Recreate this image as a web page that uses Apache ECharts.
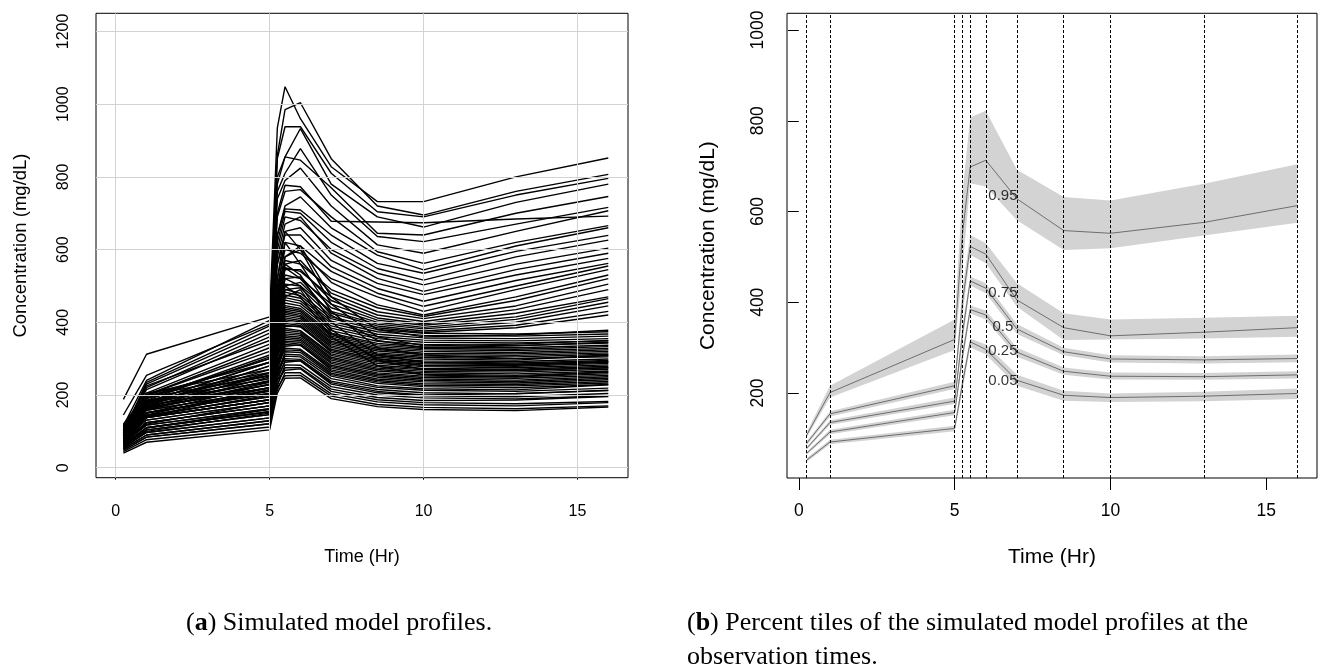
<!DOCTYPE html>
<html>
<head>
<meta charset="utf-8">
<script src="https://cdn.jsdelivr.net/npm/echarts@6/dist/echarts.min.js"></script>
<style>
html, body { margin: 0; padding: 0; background: #fff; }
#main { width: 1320px; height: 671px; }
</style>
</head>
<body>
<div id="main"></div>
<script>
// observation times (Hr)
var times = [0.25, 1, 5, 5.25, 5.5, 6, 7, 8.5, 10, 13, 16];

// simulated profiles, one row per subject, values at the observation times
var profiles = [
    [188, 312, 415, 935, 1048, 960, 828, 732, 732, 800, 852],
    [145, 254, 395, 860, 985, 1004, 850, 720, 695, 760, 807],
    [105, 220, 370, 850, 938, 938, 810, 704, 690, 750, 796],
    [115, 240, 405, 780, 855, 933, 780, 690, 662, 730, 780],
    [100, 215, 360, 800, 855, 846, 770, 645, 640, 700, 746],
    [95, 205, 340, 760, 810, 878, 750, 636, 622, 670, 716],
    [100, 230, 380, 740, 790, 824, 720, 613, 590, 650, 707],
    [90, 200, 330, 700, 777, 773, 678, 676, 674, 684, 692],
    [105, 225, 350, 690, 760, 765, 690, 594, 562, 620, 666],
    [95, 200, 320, 640, 720, 745, 660, 585, 544, 610, 660],
    [85, 190, 310, 640, 712, 709, 640, 562, 535, 595, 639],
    [90, 195, 300, 620, 705, 700, 620, 548, 516, 580, 626],
    [80, 180, 290, 600, 690, 680, 600, 535, 503, 560, 604],
    [88, 185, 305, 580, 670, 690, 590, 521, 485, 545, 590],
    [95, 235, 390, 560, 650, 660, 570, 507, 476, 530, 576],
    [85, 175, 280, 560, 640, 640, 553, 493, 458, 515, 562],
    [80, 170, 280, 520, 620, 610, 540, 480, 444, 500, 555],
    [75, 165, 260, 500, 600, 590, 520, 470, 430, 490, 545],
    [90, 180, 290, 480, 580, 600, 510, 448, 420, 470, 530],
    [70, 160, 250, 470, 570, 560, 490, 440, 416, 460, 520],
    [85, 175, 270, 460, 560, 570, 480, 429, 410, 445, 505],
    [78, 168, 240, 450, 550, 540, 470, 420, 402, 435, 490],
    [72, 150, 230, 440, 545, 545, 460, 412, 396, 425, 470],
    [82, 172, 255, 430, 530, 520, 450, 406, 392, 415, 465],
    [68, 145, 220, 420, 520, 525, 440, 400, 386, 408, 455],
    [76, 160, 235, 410, 505, 500, 430, 395, 382, 400, 445],
    [88, 190, 300, 420, 500, 510, 425, 390, 376, 392, 430],
    [65, 140, 215, 400, 490, 495, 415, 385, 372, 385, 420],
    [40, 70, 104, 205, 246, 247, 190, 168, 160, 157, 167],
    [64, 110, 154, 220, 253, 254, 197, 174, 166, 162, 170],
    [48, 84, 121, 214, 261, 261, 203, 181, 173, 170, 179],
    [80, 138, 187, 241, 268, 272, 210, 187, 179, 176, 182],
    [56, 97, 137, 229, 275, 275, 216, 193, 185, 186, 196],
    [44, 77, 112, 226, 283, 282, 223, 200, 192, 189, 198],
    [72, 124, 170, 250, 290, 294, 230, 206, 198, 195, 204],
    [52, 90, 129, 240, 295, 294, 234, 210, 200, 204, 212],
    [88, 151, 204, 268, 300, 298, 238, 215, 206, 203, 213],
    [60, 104, 146, 253, 307, 305, 245, 221, 213, 210, 219],
    [68, 117, 162, 262, 312, 310, 252, 225, 217, 214, 228],
    [48, 84, 121, 253, 319, 317, 256, 232, 223, 220, 229],
    [96, 165, 220, 289, 324, 322, 260, 236, 227, 225, 233],
    [76, 131, 179, 279, 329, 326, 265, 240, 231, 229, 237],
    [56, 97, 137, 268, 334, 338, 269, 244, 236, 233, 242],
    [84, 144, 195, 291, 339, 336, 274, 249, 240, 237, 246],
    [64, 110, 154, 281, 344, 340, 278, 253, 244, 241, 250],
    [104, 178, 237, 311, 348, 345, 282, 257, 248, 246, 254],
    [72, 124, 170, 292, 353, 350, 287, 261, 252, 250, 264],
    [52, 90, 129, 282, 358, 354, 291, 266, 257, 254, 262],
    [80, 138, 187, 304, 363, 359, 296, 270, 261, 258, 266],
    [92, 158, 212, 316, 368, 364, 300, 274, 265, 263, 271],
    [68, 117, 162, 303, 373, 368, 304, 278, 269, 267, 275],
    [112, 192, 253, 336, 378, 373, 309, 282, 273, 271, 279],
    [76, 131, 179, 315, 383, 377, 313, 287, 278, 275, 283],
    [60, 104, 146, 307, 388, 390, 318, 291, 282, 279, 287],
    [88, 151, 204, 329, 392, 387, 322, 295, 286, 284, 291],
    [100, 171, 228, 341, 397, 391, 326, 299, 290, 288, 295],
    [80, 138, 187, 330, 402, 396, 331, 304, 294, 292, 299],
    [64, 110, 154, 323, 407, 401, 335, 308, 299, 296, 310],
    [108, 185, 245, 356, 412, 405, 340, 312, 303, 300, 308],
    [84, 144, 195, 343, 417, 410, 344, 316, 307, 305, 312],
    [96, 165, 220, 355, 422, 415, 348, 321, 311, 309, 316],
    [72, 124, 170, 341, 427, 419, 353, 325, 315, 313, 320],
    [116, 198, 262, 375, 431, 424, 357, 329, 320, 317, 324],
    [88, 151, 204, 359, 436, 429, 362, 333, 324, 322, 328],
    [104, 178, 237, 373, 441, 433, 366, 338, 328, 326, 333],
    [92, 158, 212, 368, 446, 438, 370, 342, 332, 330, 337],
    [120, 205, 270, 392, 453, 445, 377, 348, 339, 336, 343],
    [100, 171, 228, 383, 461, 452, 384, 355, 345, 343, 349],
    [80, 138, 187, 374, 468, 459, 390, 361, 351, 349, 355],
    [112, 192, 253, 401, 475, 466, 397, 367, 357, 355, 362],
    [96, 165, 220, 395, 483, 473, 403, 374, 364, 362, 368],
    [108, 185, 245, 408, 490, 480, 410, 380, 370, 368, 374],
    [70, 120, 180, 480, 620, 560, 430, 330, 310, 300, 305],
    [90, 160, 230, 520, 650, 600, 450, 360, 335, 340, 350],
    [60, 110, 160, 420, 560, 530, 400, 310, 290, 285, 292],
    [100, 180, 260, 460, 580, 610, 470, 380, 360, 365, 378],
    [80, 150, 210, 400, 520, 500, 380, 295, 270, 268, 275],
    [70, 140, 200, 380, 500, 470, 360, 280, 255, 250, 258],
    [110, 200, 290, 450, 550, 520, 420, 350, 330, 335, 345],
    [55, 100, 150, 360, 470, 490, 370, 300, 280, 282, 290]
];

// percentiles of the profiles and their confidence bands
var q95 = [107, 201, 318, 550, 698, 713, 628, 558, 552, 576, 613];
var q95Lo = [102, 190, 295, 470, 662, 655, 581, 515, 519, 547, 575];
var q95Hi = [113, 216, 362, 640, 807, 822, 692, 632, 624, 661, 704];
var q75 = [89, 154, 216, 400, 523, 506, 405, 344, 326, 334, 344];
var q75Lo = [85, 148, 209, 370, 504, 486, 390, 317, 318, 320, 324];
var q75Hi = [93, 160, 225, 430, 548, 530, 442, 376, 362, 366, 370];
var q50 = [78, 135, 182, 330, 447, 431, 341, 291, 275, 273, 276];
var q50Lo = [75, 130, 176, 310, 437, 420, 330, 283, 267, 265, 268];
var q50Hi = [81, 140, 190, 350, 457, 442, 352, 300, 283, 281, 285];
var q25 = [67, 114, 157, 280, 384, 372, 290, 248, 237, 236, 240];
var q25Lo = [64, 109, 151, 265, 375, 362, 280, 240, 230, 229, 232];
var q25Hi = [70, 119, 163, 295, 393, 382, 300, 256, 245, 244, 248];
var q05 = [52, 92, 122, 220, 313, 296, 228, 195, 190, 193, 199];
var q05Lo = [48, 87, 116, 205, 301, 285, 216, 183, 180, 182, 187];
var q05Hi = [56, 97, 128, 235, 320, 307, 240, 205, 199, 203, 210];

var pctNames = ['0.95', '0.75', '0.5', '0.25', '0.05'];
var pctLabelX = [6.55, 6.55, 6.55, 6.55, 6.55];
var pctLabelY = [634, 420, 346, 293, 227];

// axis ticks
var xTicks = [0, 5, 10, 15];
var yTicksA = [0, 200, 400, 600, 800, 1000, 1200];
var yTicksB = [200, 400, 600, 800, 1000];

var SANS = '"Liberation Sans", Arial, sans-serif';
var SERIF = '"Liberation Serif", "Times New Roman", serif';

var myChart = echarts.init(document.getElementById('main'));

var pct = [q95, q75, q50, q25, q05];
var bandLo = [q95Lo, q75Lo, q50Lo, q25Lo, q05Lo];
var bandHi = [q95Hi, q75Hi, q50Hi, q25Hi, q05Hi];

function pairs(vals) {
    return times.map(function (t, i) { return [t, vals[i]]; });
}

var series = [];

// light grey grid of the left panel
series.push({
    type: 'line', xAxisIndex: 0, yAxisIndex: 0, data: [], silent: true, z: 1,
    markLine: {
        silent: true, symbol: ['none', 'none'], animation: false,
        label: { show: false },
        lineStyle: { color: '#d3d3d3', type: 'solid', width: 1 },
        data: xTicks.map(function (v) { return { xAxis: v }; })
            .concat(yTicksA.map(function (v) { return { yAxis: v }; }))
    }
});

profiles.forEach(function (row) {
    series.push({
        type: 'line', xAxisIndex: 0, yAxisIndex: 0,
        data: pairs(row), symbol: 'none', silent: true, z: 3,
        lineStyle: { color: '#000', width: 1.4 }
    });
});

// grey bands
series.push({
    type: 'custom', xAxisIndex: 1, yAxisIndex: 1, silent: true, z: 2,
    data: pct.map(function (p, k) { return [times[0], p[0], k]; }),
    renderItem: function (params, api) {
        var k = params.dataIndex;
        var pts = [];
        for (var i = 0; i < times.length; i++) pts.push(api.coord([times[i], bandHi[k][i]]));
        for (var j = times.length - 1; j >= 0; j--) pts.push(api.coord([times[j], bandLo[k][j]]));
        return { type: 'polygon', shape: { points: pts }, style: { fill: '#d3d3d3' } };
    }
});

pct.forEach(function (p) {
    series.push({
        type: 'line', xAxisIndex: 1, yAxisIndex: 1,
        data: pairs(p), symbol: 'none', silent: true, z: 3,
        lineStyle: { color: '#6e6e6e', width: 1 }
    });
});

// observation times
series.push({
    type: 'line', xAxisIndex: 1, yAxisIndex: 1, data: [], silent: true, z: 5,
    markLine: {
        silent: true, symbol: ['none', 'none'], animation: false,
        label: { show: false },
        lineStyle: { color: '#000', type: [3, 2], width: 1 },
        data: times.map(function (t) { return { xAxis: t }; })
    }
});

series.push({
    type: 'scatter', xAxisIndex: 1, yAxisIndex: 1, silent: true, z: 6,
    symbolSize: 0,
    data: pctNames.map(function (n, i) { return [pctLabelX[i], pctLabelY[i], n]; }),
    label: {
        show: true, position: 'inside', color: '#000',
        fontSize: 15, fontFamily: SANS,
        formatter: function (p) { return p.value[2]; }
    }
});

function plain(v) { return String(v); }

function xAx(idx, min, max, fs, nfs, gap, nameGap) {
    return {
        type: 'value', gridIndex: idx, min: min, max: max,
        name: 'Time (Hr)', nameLocation: 'middle', nameGap: nameGap,
        nameTextStyle: { color: '#000', fontSize: nfs, fontFamily: SANS },
        axisLine: { show: false },
        axisTick: { show: true, length: 12, customValues: xTicks, lineStyle: { color: '#000' } },
        axisLabel: { customValues: xTicks, formatter: plain, color: '#000', fontSize: fs, fontFamily: SANS, margin: gap },
        splitLine: { show: false }
    };
}
function yAx(idx, min, max, ticks, fs, nfs, gap, nameGap) {
    return {
        type: 'value', gridIndex: idx, min: min, max: max,
        name: 'Concentration (mg/dL)', nameLocation: 'middle', nameGap: nameGap, nameRotate: 90,
        nameTextStyle: { color: '#000', fontSize: nfs, fontFamily: SANS },
        axisLine: { show: false },
        axisTick: { show: true, length: 11, customValues: ticks, lineStyle: { color: '#000' } },
        axisLabel: { customValues: ticks, formatter: plain, rotate: 90, color: '#000', fontSize: fs, fontFamily: SANS, margin: gap },
        splitLine: { show: false }
    };
}

option = {
    animation: false,
    backgroundColor: '#fff',
    grid: [
        { left: 96, top: 13.3, width: 532, height: 464.4, show: true, borderColor: '#000', borderWidth: 1, backgroundColor: 'transparent' },
        { left: 787, top: 13.3, width: 530, height: 464.7, show: true, borderColor: '#000', borderWidth: 1, backgroundColor: 'transparent' }
    ],
    xAxis: [
        xAx(0, -0.64, 16.64, 16, 18, 26, 70),
        xAx(1, -0.38, 16.63, 17.5, 21, 24, 69)
    ],
    yAxis: [
        yAx(0, -27.5, 1250, yTicksA, 16, 18.5, 24, 66),
        yAx(1, 12.7, 1036.8, yTicksB, 17.5, 21, 20, 68)
    ],
    graphic: [
        {
            type: 'text', x: 186, y: 623.5,
            style: {
                text: '({b|a}) Simulated model profiles.',
                fontSize: 26, fontFamily: SERIF, fill: '#000', verticalAlign: 'middle',
                rich: { b: { fontWeight: 'bold', fontSize: 26, fontFamily: SERIF } }
            }
        },
        {
            type: 'text', x: 687, y: 623.5,
            style: {
                text: '({b|b}) Percent tiles of the simulated model profiles at the',
                fontSize: 26, fontFamily: SERIF, fill: '#000', verticalAlign: 'middle',
                rich: { b: { fontWeight: 'bold', fontSize: 26, fontFamily: SERIF } }
            }
        },
        {
            type: 'text', x: 687, y: 656.8,
            style: {
                text: 'observation times.',
                fontSize: 26, fontFamily: SERIF, fill: '#000', verticalAlign: 'middle'
            }
        }
    ],
    series: series
};
myChart.setOption(option);
</script>
</body>
</html>
